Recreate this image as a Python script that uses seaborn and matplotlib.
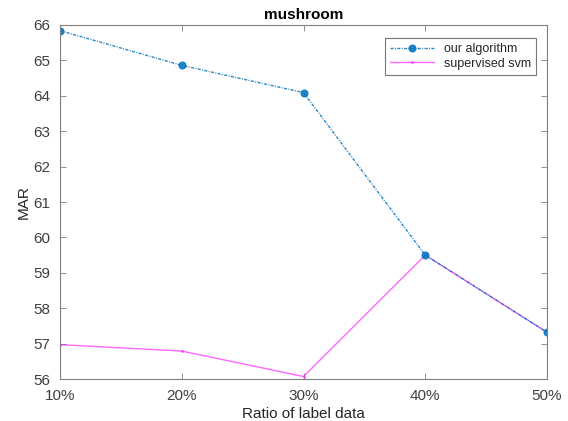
import matplotlib
matplotlib.use("Agg")
import matplotlib.pyplot as plt
import seaborn as sns
import pandas as pd

ratios = ["10%", "20%", "30%", "40%", "50%"]
x_vals = [10, 20, 30, 40, 50]
our_algorithm = [65.84, 64.86, 64.09, 59.50, 57.32]
supervised_svm = [56.97, 56.79, 56.07, 59.50, 57.32]

sns.set_theme(style="white")
plt.rcParams['font.family'] = ['Liberation Sans', 'DejaVu Sans']

fig = plt.figure(figsize=(5.68, 4.21), dpi=100)
ax = fig.add_axes([60/568, 42/421, 487/568, 354/421])

df1 = pd.DataFrame({"x": x_vals, "y": our_algorithm})
df2 = pd.DataFrame({"x": x_vals, "y": supervised_svm})

sns.lineplot(data=df2, x="x", y="y", ax=ax, color="#FF00FF", linestyle="-",
             linewidth=1.0, marker=".", markersize=4, markeredgewidth=0,
             label="supervised svm", alpha=0.6)
sns.lineplot(data=df1, x="x", y="y", ax=ax, color="#0072BD", linestyle="-.",
             linewidth=1.0, marker="o", markersize=5, markeredgewidth=0.8,
             markeredgecolor="#0072BD", label="our algorithm", dashes=False)
for ln in ax.get_lines():
    if ln.get_label() == "our algorithm":
        ln.set_dashes((2.2, 1.0, 0.7, 1.0))
        ln.set_alpha(0.85)

ax.set_xlim(10, 50)
ax.set_ylim(56, 66)
ax.set_xticks(x_vals)
ax.set_xticklabels(ratios)
ax.set_yticks(range(56, 67))
ax.set_xlabel("Ratio of label data", fontsize=11, color="#262626", labelpad=3)
ax.set_ylabel("MAR", fontsize=11, color="#262626", labelpad=2)
ax.set_title("mushroom", fontsize=11, fontweight="bold", color="#000000", pad=4)

for s in ax.spines.values():
    s.set_color("#808080")
    s.set_linewidth(0.8)
ax.tick_params(direction="in", length=4, width=0.6, colors="#808080",
               labelcolor="#404040", labelsize=11, top=True, right=True,
               bottom=True, left=True, pad=7)

handles, labels = ax.get_legend_handles_labels()
order = [labels.index("our algorithm"), labels.index("supervised svm")]
for h in handles:
    if h.get_label() == "our algorithm":
        h.set_dashes((2.2, 1.0, 0.7, 1.0))
leg = ax.legend([handles[i] for i in order], [labels[i] for i in order],
                loc="upper right", fontsize=9, frameon=True, fancybox=False,
                edgecolor="#555555", handlelength=3.5, borderpad=0.4,
                labelspacing=0.2, bbox_to_anchor=(0.99, 0.98))
leg.get_frame().set_linewidth(0.8)

fig.savefig("out.png", dpi=100, facecolor="white")
